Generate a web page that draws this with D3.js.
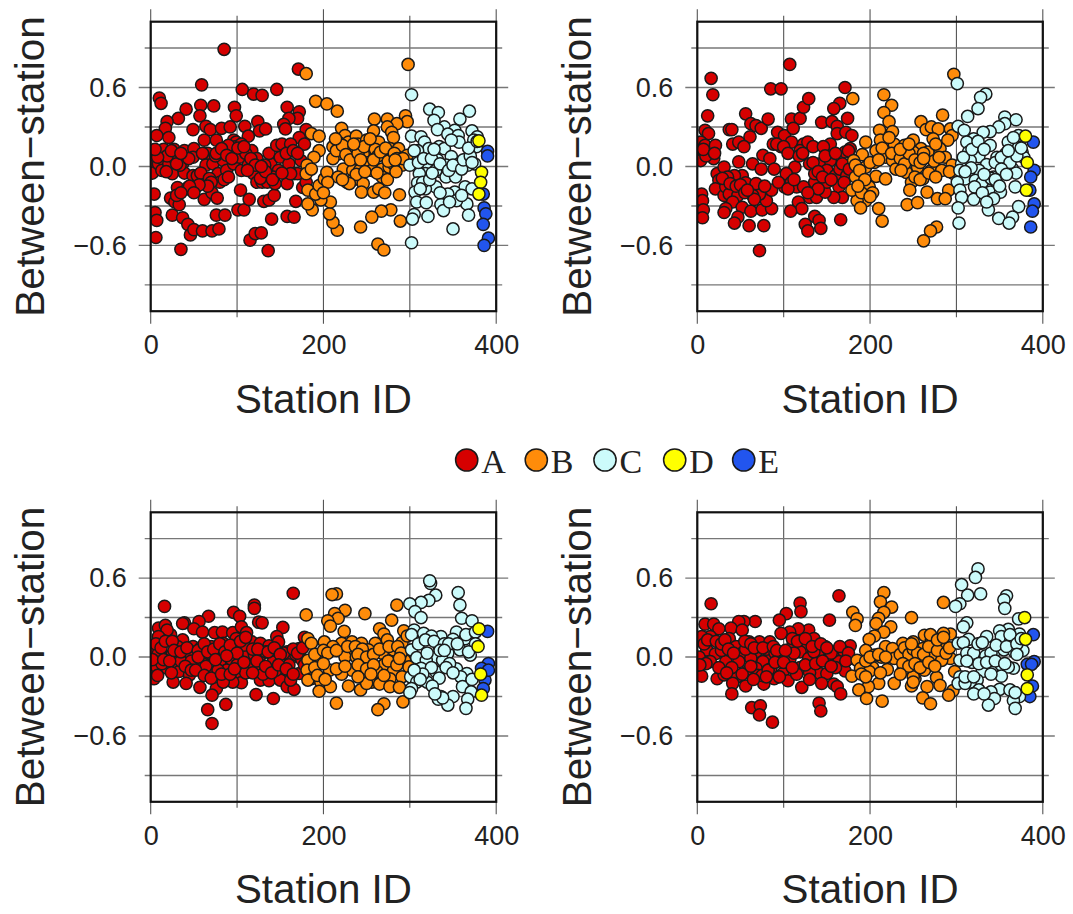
<!DOCTYPE html>
<html>
<head>
<meta charset="utf-8">
<script src="https://cdn.jsdelivr.net/npm/d3@7"></script>
<style>
body { margin: 0; background: #fff; }
text { font-family: "Liberation Sans", Arial, sans-serif; fill: #222; }
</style>
</head>
<body>
<svg id="chart" width="1073" height="914"></svg>
<script>
const categories = ['A', 'B', 'C', 'D', 'E'];
const colors = ['#d60000', '#ff8c0a', '#ccfbfb', '#ffff00', '#2255ee'];
const xTicks = [0, 200, 400];
const xMinor = [100, 300];
const yTicks = [-0.6, 0, 0.6];
const yMinor = [-0.9, -0.3, 0.3, 0.9];

// values: [station id, between-station]
const p1A = [[85,.89],[171,.74],[59,.62],[106,.585],[146,.585],[119,.55],[129,.54],[10,.52],[12,.48],[58,.465],[73,.46],[97,.45],[158,.45],[41,.435],[172,.415],[57,.385],[99,.385],[32,.365],[170,.365],[160,.365],[19,.34],[124,.34],[154,.32],[64,.305],[109,.305],[17,.29],[49,.28],[69,.28],[82,.29],[92,.3],[126,.27],[133,.285],[156,.285],[180,.28],[7,.235],[21,.22],[62,.2],[76,.2],[113,.23],[96,.2],[172,.22],[99,.185],[3,0],[2,-.05],[4,-.21],[5,-.35],[7,-.41],[6,-.54],[11,.12],[15,.13],[9,.02],[15,.05],[13,-.03],[21,.02],[25,-.055],[27,.13],[23,-.24],[28,-.27],[33,-.29],[25,-.37],[37,-.39],[43,-.44],[35,-.63],[46,-.52],[50,-.48],[60,-.49],[71,-.49],[79,-.475],[31,-.16],[39,.12],[37,.02],[39,-.05],[43,-.16],[47,-.18],[52,-.16],[49,-.07],[54,-.07],[62,-.12],[50,.135],[49,.07],[66,.1],[60,.1],[64,.01],[72,.02],[78,-.055],[80,-.12],[62,-.25],[71,-.2],[77,-.24],[76,-.37],[86,-.37],[84,.045],[88,-.03],[92,.12],[96,.02],[99,.15],[103,.07],[105,.17],[105,-.03],[113,.01],[117,.12],[104,-.18],[101,-.33],[108,-.33],[114,-.25],[115,-.56],[121,-.51],[128,-.505],[136,-.64],[140,-.4],[131,-.265],[137,-.255],[143,-.22],[158,-.38],[166,-.385],[168,-.265],[125,.02],[119,-.055],[123,-.12],[129,-.12],[135,-.12],[139,.02],[137,.1],[148,-.03],[150,.07],[146,.16],[152,.17],[162,.17],[160,.02],[158,-.13],[144,-.13],[166,-.055],[174,.045],[178,.17],[170,-.055],[176,-.16],[162,-.055],[180,-.12],[75,.08],[88,.1],[110,.1],[123,.06],[58,-.05],[68,-.09],[132,.01],[142,-.08],[90,.16],[101,.14],[85,-.1],[28,.06],[34,.01],[76,.1],[82,.135],[88,.085],[108,.15],[116,.06],[121,.01],[127,-.09],[133,-.04],[141,-.1],[152,-.05],[157,.1],[165,.12],[170,.1],[128,0],[112,-.03],[94,.06],[90,-.08],[70,-.12],[66,-.15],[56,-.14],[45,-.15],[50,-.2],[30,-.22],[35,-.2],[19,.08],[24,.12],[30,.02],[18,-.04],[8,.07],[5,.13],[44,.06],[35,.1]];
const p1B = [[180,.705],[191,.495],[204,.475],[216,.42],[259,.36],[274,.36],[295,.385],[297,.34],[298,.775],[285,.325],[258,.27],[274,.3],[279,.26],[281,.22],[186,.25],[195,.23],[195,.12],[189,.07],[181,.01],[180,-.055],[221,.29],[225,.235],[217,.185],[211,.15],[217,.095],[211,.06],[229,.185],[238,.23],[240,.17],[233,.12],[236,.07],[250,.2],[254,.135],[264,.185],[246,.095],[252,.03],[233,.01],[223,-.02],[234,-.03],[242,-.03],[256,-.03],[268,-.02],[276,-.005],[270,.085],[277,.135],[287,.135],[287,.07],[297,.085],[291,.01],[281,.02],[268,-.08],[217,-.08],[227,-.12],[234,-.105],[246,-.13],[244,-.195],[258,-.195],[264,-.17],[271,-.2],[288,-.215],[278,-.33],[267,-.34],[256,-.385],[243,-.46],[289,-.415],[263,-.59],[270,-.635],[216,-.485],[211,-.425],[207,-.36],[208,-.27],[197,-.255],[187,-.33],[182,-.285],[182,-.18],[191,-.21],[195,-.145],[201,-.095],[204,-.045],[215,.12],[222,.16],[226,.09],[231,.05],[240,.1],[247,.15],[260,.13],[263,.08],[258,.05],[266,.11],[272,.14],[275,.04],[282,.1],[285,.06],[292,.06],[243,.05],[238,-.06],[230,-.13],[222,-.1],[248,-.04],[262,-.05],[274,-.1],[284,-.04],[205,-.12],[200,-.2],[186,-.02],[214,.21],[235,.17],[254,.21],[283,.05]];
const p1C = [[302,.545],[323,.435],[333,.41],[369,.42],[358,.36],[328,.35],[340,.3],[332,.28],[352,.275],[372,.27],[344,.245],[356,.235],[378,.225],[302,.23],[313,.225],[317,.185],[357,.185],[322,.135],[309,.12],[334,.15],[340,.135],[377,.15],[300,.01],[332,.05],[348,.075],[366,.06],[375,.02],[314,.01],[322,-.005],[342,.01],[367,.01],[357,.02],[318,-.055],[311,-.055],[336,-.04],[342,-.08],[353,-.08],[309,-.125],[330,-.155],[318,-.17],[364,-.155],[372,-.17],[306,-.195],[352,-.195],[344,-.21],[308,-.27],[319,-.275],[336,-.29],[366,-.285],[354,-.26],[339,-.335],[305,-.365],[321,-.38],[368,-.37],[303,-.4],[350,-.475],[302,-.58],[305,.12],[310,.03],[316,.06],[325,.06],[330,-.03],[335,.02],[345,-.03],[350,.01],[360,-.02],[362,.05],[370,.08],[374,.2],[368,.14],[378,.19],[315,-.12],[323,-.1],[326,-.05],[312,-.17],[335,-.2],[360,-.22],[346,-.27],[328,.13],[348,.2],[372,.03]];
const p1D = [[380,.195],[383,-.045],[382,-.12],[380,-.21]];
const p1E = [[390,.115],[390,.08],[385,-.21],[386,-.315],[388,-.36],[385,-.44],[391,-.545],[386,-.6]];

const p2A = [[16,.67],[18,.545],[12,.385],[9,.275],[13,.25],[4,.185],[2,.12],[9,.16],[15,.11],[21,.16],[4,.045],[19,.06],[5,-.21],[6,-.26],[7,-.33],[6,-.39],[23,-.055],[31,-.005],[25,-.105],[21,-.17],[31,-.22],[37,.28],[40,.28],[41,.17],[48,.035],[48,.185],[56,.4],[62,.325],[68,.31],[74,.29],[61,.225],[54,.15],[52,-.07],[43,-.07],[35,-.08],[33,-.155],[37,-.21],[47,-.22],[56,-.125],[41,-.27],[33,-.32],[31,-.35],[52,-.31],[47,-.385],[43,-.43],[60,-.45],[62,-.34],[77,-.45],[72,-.64],[75,-.33],[86,-.32],[80,-.26],[72,-.21],[64,-.22],[68,-.13],[64,.02],[74,-.02],[76,.085],[84,.06],[89,-.02],[86,-.18],[85,.59],[97,.59],[107,.775],[82,.36],[93,.26],[88,.17],[97,.15],[101,.235],[109,.36],[119,.365],[111,.29],[123,.45],[129,.515],[109,.185],[123,.17],[119,.12],[128,.185],[134,.15],[113,-.005],[103,-.055],[101,-.155],[109,-.12],[115,-.155],[123,-.155],[136,-.12],[130,-.235],[138,-.235],[117,-.27],[121,-.32],[108,-.34],[125,-.44],[128,-.49],[136,-.38],[141,-.41],[143,-.47],[166,-.405],[144,.335],[156,.34],[162,.305],[174,.365],[171,.6],[165,.48],[158,.44],[162,.25],[172,.26],[179,.235],[154,.17],[146,.15],[177,.135],[171,.11],[142,.02],[154,.045],[150,-.03],[130,.02],[136,-.055],[160,-.07],[165,-.02],[173,-.07],[164,-.155],[168,-.235],[158,-.235],[148,-.195],[150,-.12],[10,.08],[7,.13],[20,.1],[29,-.09],[38,-.13],[45,-.15],[50,-.14],[55,-.2],[66,-.25],[58,-.18],[78,-.15],[92,.17],[100,.15],[105,.1],[94,-.12],[105,-.17],[112,-.1],[118,.08],[122,.1],[134,.03],[140,-.04],[148,.08],[140,-.17],[128,-.2],[145,-.08],[155,-.1],[168,.02],[175,.12],[170,-.12],[176,-.02],[160,.1]];
const p2B = [[297,.7],[180,.515],[216,.545],[225,.465],[216,.41],[284,.39],[222,.34],[259,.34],[226,.265],[211,.275],[265,.28],[271,.3],[279,.285],[293,.285],[295,.235],[290,.2],[195,.185],[212,.2],[228,.17],[250,.2],[273,.21],[240,.16],[259,.135],[281,.135],[191,.09],[207,.12],[218,.07],[226,.045],[238,.045],[250,.11],[267,.11],[287,.07],[181,.045],[205,.03],[195,-.005],[230,-.02],[242,-.045],[255,-.005],[271,-.03],[295,.01],[297,-.055],[283,-.03],[183,-.08],[207,-.075],[218,-.095],[261,-.095],[248,-.12],[199,-.155],[246,-.18],[266,-.195],[291,-.18],[278,-.245],[287,-.245],[203,-.2],[195,-.26],[185,-.26],[179,-.18],[189,-.315],[210,-.32],[243,-.29],[255,-.275],[214,-.415],[277,-.46],[270,-.49],[262,-.565],[183,.01],[188,-.03],[200,.03],[214,.14],[225,.1],[235,.06],[240,.02],[245,.1],[252,.05],[258,.03],[262,.1],[274,.04],[280,.07],[292,-.04],[236,-.03],[252,-.08],[258,-.1],[268,-.05],[276,-.08],[190,-.2],[194,-.1],[200,-.23],[186,-.15],[222,.22],[235,.13],[245,.17],[262,.06],[276,.17],[210,.05]];
const p2C = [[301,.63],[334,.55],[328,.525],[325,.44],[313,.38],[356,.375],[369,.355],[356,.325],[349,.3],[302,.305],[309,.275],[339,.265],[331,.26],[320,.21],[312,.185],[372,.235],[360,.185],[328,.145],[339,.16],[314,.11],[372,.145],[376,.11],[326,.075],[347,.07],[357,.095],[378,.07],[306,.02],[316,.045],[335,.015],[359,.02],[365,-.02],[304,-.03],[326,-.03],[369,-.05],[314,-.07],[343,-.08],[310,-.095],[301,-.12],[322,-.105],[330,-.12],[347,-.13],[321,-.155],[368,-.155],[304,-.18],[339,-.195],[351,-.195],[306,-.235],[320,-.25],[343,-.245],[302,-.315],[337,-.33],[372,-.305],[365,-.385],[349,-.395],[361,-.43],[303,-.43],[308,.07],[318,.13],[325,.19],[332,.13],[345,.03],[352,.07],[362,.03],[370,.08],[375,.14],[352,-.02],[340,-.09],[332,-.06],[317,-.01],[310,-.04],[345,-.1],[350,-.15],[330,-.2],[358,-.06],[335,-.27],[360,.12],[366,.22]];
const p2D = [[380,.23],[382,.03],[381,-.18]];
const p2E = [[389,.185],[390,-.03],[386,-.08],[385,-.18],[390,-.285],[388,-.34],[386,-.46]];

const p3A = [[16,.385],[165,.485],[120,.395],[120,.37],[96,.34],[103,.31],[67,.31],[56,.27],[39,.26],[37,.255],[125,.265],[129,.26],[153,.225],[9,.22],[17,.24],[50,.215],[60,.19],[74,.185],[83,.19],[95,.185],[105,.23],[111,.185],[23,.17],[19,.205],[37,.13],[13,.13],[9,.155],[146,.155],[178,.15],[99,.14],[117,.115],[127,.105],[137,.085],[148,.115],[49,.08],[70,.08],[84,.105],[95,.04],[31,.08],[4,.055],[9,.03],[21,0],[39,0],[52,.04],[64,0],[76,.04],[113,.03],[127,.015],[139,.03],[158,.04],[172,.065],[162,-.01],[154,.03],[29,-.05],[49,-.025],[60,-.05],[80,-.05],[94,-.025],[115,-.075],[127,-.075],[142,-.035],[152,-.1],[172,-.125],[4,-.1],[7,-.075],[4,-.165],[19,-.085],[33,-.11],[45,-.135],[68,-.11],[88,-.1],[103,-.125],[135,-.11],[26,-.19],[41,-.2],[57,-.23],[76,-.24],[71,-.29],[87,-.36],[66,-.4],[71,-.505],[122,-.285],[142,-.315],[105,-.195],[95,-.19],[127,-.175],[137,-.18],[150,-.175],[158,-.225],[166,-.245],[162,-.175],[84,-.19],[13,-.05],[25,.02],[43,.03],[58,.07],[71,.02],[90,.06],[108,.09],[120,.02],[133,.04],[145,.05],[168,.02],[35,-.03],[54,-.08],[64,-.07],[78,-.1],[100,-.06],[110,-.12],[130,-.13],[145,-.1],[160,-.06],[175,-.02],[2,-.02],[6,.1],[12,.07],[17,.12],[25,.12],[15,-.02],[22,-.03],[27,.05],[35,.04],[42,.07],[47,-.03],[55,.05],[55,0],[62,.1],[66,.04],[73,.06],[80,.1],[86,.04],[92,.09],[100,.03],[104,.12],[110,.15],[118,.06],[124,.06],[136,.04],[143,.07],[150,.02],[165,.06],[170,.03],[8,-.14],[24,-.12],[40,-.07],[47,-.1],[52,-.1],[62,-.14],[70,-.16],[82,-.13],[92,-.13],[97,-.09],[108,-.04],[118,-.12],[123,-.03],[133,-.07],[140,-.12],[148,-.06],[157,-.09],[165,-.13],[178,-.06],[176,.07],[75,-.02],[88,.01]];
const p3B = [[215,.48],[210,.475],[180,.32],[248,.33],[225,.355],[285,.395],[213,.33],[217,.295],[205,.275],[208,.235],[279,.28],[265,.215],[224,.195],[293,.2],[270,.175],[182,.14],[201,.115],[221,.105],[260,.105],[274,.13],[291,.11],[233,.115],[244,.105],[186,.105],[211,.08],[233,.055],[252,.055],[281,.055],[268,.03],[225,0],[238,0],[182,-.025],[195,-.025],[254,-.035],[294,-.025],[270,-.06],[299,-.075],[181,-.1],[207,-.1],[233,-.1],[246,-.11],[262,-.11],[281,-.105],[221,-.13],[186,-.165],[197,-.19],[291,-.15],[256,-.19],[277,-.165],[182,-.175],[208,-.225],[229,-.22],[243,-.25],[195,-.26],[265,-.205],[277,-.225],[288,-.23],[215,-.35],[270,-.355],[263,-.4],[292,-.34],[250,-.2],[190,.02],[200,.05],[205,.03],[215,.05],[228,.08],[237,.08],[245,.06],[240,.02],[250,0],[258,.02],[265,.06],[276,.08],[286,.08],[290,.03],[297,.16],[190,-.08],[200,-.05],[215,-.09],[225,-.07],[240,-.06],[250,-.09],[258,-.06],[275,-.03],[285,-.06],[288,-.01],[240,-.15],[270,-.14],[255,-.13],[193,-.14],[202,-.17]];
const p3C = [[324,.56],[323,.58],[330,.47],[322,.43],[313,.415],[356,.49],[358,.395],[300,.405],[306,.345],[313,.3],[360,.295],[372,.275],[305,.205],[354,.19],[302,.17],[316,.18],[336,.155],[325,.16],[350,.135],[372,.17],[364,.14],[334,.08],[358,.055],[302,.055],[344,.03],[370,.015],[308,-.005],[330,0],[319,-.025],[338,-.025],[354,-.09],[346,-.05],[313,-.085],[330,-.11],[366,-.125],[359,-.15],[301,-.15],[334,-.16],[320,-.19],[308,-.19],[326,-.22],[302,-.24],[361,-.225],[371,-.265],[300,-.27],[350,-.3],[336,-.3],[344,-.365],[367,-.32],[365,-.39],[333,-.32],[310,.1],[318,.13],[328,.12],[340,.1],[345,.1],[355,.1],[365,.17],[376,.19],[376,.1],[368,.04],[320,.03],[335,.05],[340,.05],[325,-.08],[315,-.13],[305,-.1],[312,-.17],[342,-.08],[350,-.12],[372,-.17],[338,-.31],[329,-.28]];
const p3D = [[380,.215],[379,.08],[382,-.13],[383,-.29]];
const p3E = [[390,.195],[391,-.05],[383,-.085],[387,-.175],[385,-.24],[391,-.1]];

const p4A = [[16,.405],[164,.465],[119,.41],[120,.345],[103,.33],[95,.28],[153,.28],[67,.27],[54,.27],[48,.27],[9,.25],[19,.25],[39,.22],[25,.215],[52,.205],[129,.205],[117,.215],[107,.19],[97,.18],[15,.155],[5,.155],[37,.14],[135,.14],[177,.085],[60,.115],[72,.115],[84,.115],[111,.105],[148,.08],[127,.08],[11,.055],[21,.025],[45,.08],[52,.03],[68,.04],[95,.015],[84,0],[119,.04],[140,.03],[160,.04],[170,.04],[4,-.025],[15,-.035],[33,-.035],[48,-.035],[62,-.01],[76,-.035],[107,-.025],[129,-.01],[150,-.025],[164,-.035],[177,-.01],[5,-.145],[23,-.165],[31,-.135],[46,-.15],[58,-.11],[68,-.085],[89,-.165],[99,-.125],[119,-.08],[105,-.18],[142,-.125],[150,-.125],[171,-.105],[56,-.22],[41,-.2],[77,-.205],[121,-.23],[144,-.2],[158,-.205],[162,-.225],[166,-.28],[40,-.28],[63,-.385],[73,-.37],[72,-.44],[87,-.495],[141,-.35],[143,-.41],[28,.05],[56,.06],[80,.06],[90,.03],[112,.03],[135,.04],[155,.03],[40,-.08],[70,-.14],[85,-.09],[115,-.13],[130,-.12],[160,-.08],[2,0],[8,.1],[12,.13],[22,.12],[28,.1],[32,.13],[36,.06],[42,.03],[55,.12],[62,.1],[66,.07],[76,.07],[88,.08],[92,.05],[102,.05],[110,.14],[116,.12],[125,.14],[133,.08],[143,.1],[150,.07],[165,.08],[175,.03],[10,-.05],[25,-.08],[34,-.12],[52,-.13],[62,-.07],[75,-.14],[82,-.1],[90,-.04],[100,-.04],[110,-.08],[125,-.06],[137,-.05],[145,-.03],[155,-.07],[172,-.03],[3,-.06],[65,-.17],[80,-.15],[130,-.17],[95,-.15]];
const p4B = [[216,.49],[212,.42],[225,.38],[216,.34],[180,.34],[185,.29],[183,.24],[285,.415],[248,.3],[210,.295],[207,.255],[224,.23],[216,.19],[205,.16],[199,.135],[263,.165],[293,.175],[285,.18],[238,.105],[250,.115],[218,.08],[283,.09],[271,.13],[226,.065],[261,.065],[195,.05],[205,.015],[213,0],[242,-.01],[228,-.01],[273,0],[293,-.01],[185,-.025],[255,-.035],[283,-.025],[203,-.08],[189,-.085],[220,-.095],[238,-.1],[263,-.1],[298,-.11],[179,-.145],[199,-.11],[252,-.165],[277,-.155],[228,-.2],[210,-.2],[198,-.225],[187,-.25],[248,-.22],[266,-.225],[281,-.215],[296,-.255],[291,-.29],[196,-.315],[214,-.335],[261,-.31],[270,-.355],[250,-.15],[195,-.03],[200,0],[210,.02],[218,0],[235,.02],[240,.07],[245,.02],[250,.06],[255,.03],[262,.02],[268,.08],[278,.05],[288,.03],[292,.07],[238,-.05],[245,-.07],[252,-.05],[258,-.08],[268,-.04],[275,-.07],[235,-.13],[250,-.19],[212,-.12],[190,-.13],[195,-.15],[270,.17],[278,.13],[285,.15],[248,.1]];
const p4C = [[325,.67],[322,.605],[306,.55],[313,.47],[328,.48],[358,.465],[355,.435],[356,.37],[304,.405],[299,.385],[312,.26],[308,.23],[372,.29],[360,.21],[350,.2],[335,.155],[373,.175],[352,.155],[363,.13],[314,.135],[302,.105],[328,.105],[345,.05],[377,.05],[355,.055],[367,.04],[315,.025],[334,.01],[304,-.025],[318,-.04],[342,-.075],[352,-.06],[366,-.085],[360,-.075],[330,-.11],[304,-.15],[352,-.145],[324,-.175],[316,-.19],[302,-.2],[310,-.2],[350,-.245],[326,-.25],[362,-.25],[320,-.28],[340,-.265],[344,-.315],[373,-.3],[337,-.365],[366,-.33],[368,-.39],[308,.11],[312,.03],[320,.03],[325,.1],[330,.11],[340,.03],[346,.09],[358,.08],[362,.17],[370,.1],[370,.02],[326,-.05],[335,-.04],[345,-.03],[356,-.05],[312,-.03],[310,-.15],[320,-.15],[340,-.13],[368,-.27],[332,-.28],[375,.14]];
const p4D = [[379,.3],[380,.135],[382,-.135],[382,-.24]];
const p4E = [[389,.17],[390,-.035],[382,-.055],[387,-.055],[388,-.22],[385,-.3]];

const width = 345.5;
const height = 289.5;
const panels = [
    { left: 150.7, top: 21.7, groups: [p1A, p1B, p1C, p1D, p1E] },
    { left: 697.3, top: 21.7, groups: [p2A, p2B, p2C, p2D, p2E] },
    { left: 150.7, top: 512.3, groups: [p3A, p3B, p3C, p3D, p3E] },
    { left: 697.3, top: 512.3, groups: [p4A, p4B, p4C, p4D, p4E] },
];
const drawOrder = [4, 0, 1, 2, 3]; // blue goes under everything, yellow on top

const svg = d3.select('#chart');
const x = d3.scaleLinear().domain([0, 400]).range([0, width]);
const y = d3.scaleLinear().domain([-1.1, 1.1]).range([height, 0]);

svg.append('clipPath').attr('id', 'plot-clip')
    .append('rect').attr('width', width).attr('height', height);

function drawPanel(p) {
    const g = svg.append('g').attr('transform', `translate(${p.left}, ${p.top})`);

    g.selectAll('.v').data(xTicks.concat(xMinor)).enter().append('line')
        .attr('x1', d => x(d)).attr('x2', d => x(d))
        .attr('y1', d => xTicks.includes(d) ? -12.5 : -6)
        .attr('y2', d => height + (xTicks.includes(d) ? 12.5 : 6))
        .attr('stroke', '#555').attr('stroke-width', 1.1);

    g.selectAll('.h').data(yTicks.concat(yMinor)).enter().append('line')
        .attr('x1', d => yTicks.includes(d) ? -12 : -6)
        .attr('x2', d => width + (yTicks.includes(d) ? 12 : 6))
        .attr('y1', d => y(d)).attr('y2', d => y(d))
        .attr('stroke', '#777').attr('stroke-width', 1.4);

    const xAxis = g.append('g').attr('transform', `translate(0, ${height + 24})`)
        .call(d3.axisBottom(x).tickValues(xTicks).tickSize(0).tickPadding(0));
    xAxis.select('.domain').remove();
    xAxis.selectAll('text').attr('font-size', 27).attr('dy', '0.71em').style('font-family', '"Liberation Sans"');

    const yAxis = g.append('g').attr('transform', 'translate(-24, 0)')
        .call(d3.axisLeft(y).tickValues(yTicks).tickSize(0).tickPadding(0)
            .tickFormat(d => d3.format('.1f')(d)));
    yAxis.select('.domain').remove();
    yAxis.selectAll('text').attr('font-size', 27).style('font-family', '"Liberation Sans"');

    g.append('text').text('Station ID')
        .attr('x', width / 2).attr('y', height + 101.5)
        .attr('text-anchor', 'middle').attr('font-size', 40.3);

    g.append('text').text('Between\u2212station')
        .attr('transform', `translate(-106.7, ${height / 2}) rotate(-90)`)
        .attr('text-anchor', 'middle').attr('font-size', 40.5);

    const marks = g.append('g').attr('clip-path', 'url(#plot-clip)');
    drawOrder.forEach(k => {
        marks.append('g').selectAll('circle').data(p.groups[k]).enter().append('circle')
            .attr('cx', d => x(d[0]))
            .attr('cy', d => y(d[1]))
            .attr('r', 6.1)
            .attr('fill', colors[k])
            .attr('stroke', '#1a1a1a')
            .attr('stroke-width', 1.5);
    });

    g.append('rect').attr('width', width).attr('height', height)
        .attr('fill', 'none').attr('stroke', '#111').attr('stroke-width', 2.2);
}

panels.forEach(drawPanel);

// legend row between the panels
const legendX = [466.7, 536.3, 605, 674.7, 743.7];
const legend = svg.append('g').attr('transform', 'translate(0, 460)');
legend.selectAll('circle').data(categories).enter().append('circle')
    .attr('cx', (d, i) => legendX[i])
    .attr('r', 11.1)
    .attr('fill', (d, i) => colors[i])
    .attr('stroke', '#1a1a1a')
    .attr('stroke-width', 1.5);
legend.selectAll('text').data(categories).enter().append('text')
    .text(d => d)
    .attr('x', (d, i) => legendX[i] + 14.5)
    .attr('y', 12.5)
    .attr('font-size', 34)
    .style('font-family', '"Liberation Serif"');
</script>
</body>
</html>
